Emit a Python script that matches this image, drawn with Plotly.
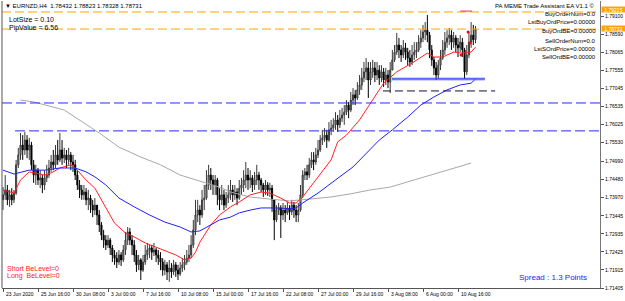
import plotly.graph_objects as go

# ---------------- data ----------------
label_idx = [0, 16, 32, 48, 64, 80, 96, 112, 128, 144, 160, 176, 192, 208]
tick_labels = ["23 Jun 2020", "25 Jun 16:00", "30 Jun 08:00", "3 Jul 00:00", "7 Jul 16:00",
               "10 Jul 08:00", "15 Jul 00:00", "17 Jul 16:00", "22 Jul 08:00", "27 Jul 00:00",
               "29 Jul 16:00", "3 Aug 08:00", "6 Aug 00:00", "10 Aug 16:00"]
y_ticks = [1.79100, 1.78590, 1.78065, 1.77555, 1.77045, 1.76535, 1.76025, 1.75530,
           1.74990, 1.74480, 1.73970, 1.73445, 1.72935, 1.72425, 1.71915, 1.71405]

opens = [
 1.7390,1.7404,1.7418,1.7390,1.7404,1.7390,1.7409,1.7489,1.7517,1.7545,
 1.7531,1.7559,1.7531,1.7545,1.7489,1.7460,1.7474,1.7446,1.7452,1.7432,
 1.7452,1.7460,1.7480,1.7497,1.7489,1.7517,1.7503,1.7531,1.7508,1.7517,
 1.7503,1.7517,1.7497,1.7489,1.7460,1.7432,1.7418,1.7404,1.7412,1.7390,
 1.7395,1.7375,1.7361,1.7375,1.7347,1.7319,1.7290,1.7276,1.7262,1.7276,
 1.7254,1.7234,1.7225,1.7214,1.7234,1.7220,1.7248,1.7276,1.7299,1.7276,
 1.7262,1.7234,1.7206,1.7220,1.7191,1.7214,1.7234,1.7248,1.7254,1.7242,
 1.7248,1.7234,1.7225,1.7214,1.7191,1.7206,1.7186,1.7197,1.7186,1.7206,
 1.7191,1.7180,1.7197,1.7206,1.7214,1.7225,1.7234,1.7262,1.7305,1.7347,
 1.7361,1.7347,1.7390,1.7395,1.7432,1.7460,1.7446,1.7432,1.7446,1.7404,
 1.7390,1.7404,1.7375,1.7395,1.7404,1.7418,1.7404,1.7412,1.7395,1.7423,
 1.7432,1.7446,1.7460,1.7446,1.7452,1.7432,1.7446,1.7460,1.7446,1.7432,
 1.7418,1.7432,1.7418,1.7423,1.7390,1.7333,1.7361,1.7367,1.7347,1.7361,
 1.7353,1.7367,1.7356,1.7375,1.7361,1.7347,1.7361,1.7404,1.7460,1.7469,
 1.7460,1.7489,1.7503,1.7497,1.7517,1.7531,1.7559,1.7565,1.7573,1.7559,
 1.7588,1.7593,1.7602,1.7616,1.7602,1.7621,1.7630,1.7638,1.7658,1.7644,
 1.7672,1.7687,1.7678,1.7701,1.7715,1.7735,1.7752,1.7763,1.7729,1.7752,
 1.7763,1.7743,1.7757,1.7735,1.7752,1.7729,1.7743,1.7723,1.7757,1.7786,
 1.7808,1.7828,1.7814,1.7800,1.7820,1.7808,1.7791,1.7780,1.7800,1.7808,
 1.7814,1.7836,1.7848,1.7865,1.7870,1.7856,1.7814,1.7786,1.7763,1.7743,
 1.7771,1.7791,1.7814,1.7836,1.7848,1.7856,1.7836,1.7848,1.7828,1.7820,
 1.7836,1.7814,1.7752,1.7800,1.7836,1.7856,1.7843]
highs = [
 1.7426,1.7460,1.7432,1.7418,1.7423,1.7418,1.7503,1.7537,1.7579,1.7573,
 1.7582,1.7573,1.7565,1.7554,1.7503,1.7489,1.7480,1.7474,1.7460,1.7474,
 1.7489,1.7503,1.7517,1.7531,1.7545,1.7559,1.7579,1.7559,1.7537,1.7531,
 1.7537,1.7525,1.7517,1.7503,1.7474,1.7446,1.7432,1.7432,1.7423,1.7418,
 1.7404,1.7390,1.7395,1.7375,1.7361,1.7327,1.7305,1.7290,1.7290,1.7282,
 1.7262,1.7248,1.7242,1.7248,1.7242,1.7262,1.7299,1.7313,1.7310,1.7290,
 1.7276,1.7248,1.7234,1.7225,1.7234,1.7262,1.7268,1.7262,1.7262,1.7268,
 1.7254,1.7248,1.7242,1.7225,1.7220,1.7214,1.7220,1.7211,1.7220,1.7214,
 1.7206,1.7214,1.7225,1.7234,1.7248,1.7262,1.7290,1.7333,1.7390,1.7390,
 1.7375,1.7418,1.7432,1.7474,1.7489,1.7480,1.7460,1.7460,1.7452,1.7423,
 1.7432,1.7418,1.7412,1.7432,1.7446,1.7432,1.7432,1.7423,1.7446,1.7452,
 1.7474,1.7497,1.7480,1.7474,1.7460,1.7469,1.7489,1.7469,1.7452,1.7438,
 1.7446,1.7440,1.7438,1.7432,1.7390,1.7375,1.7381,1.7375,1.7381,1.7375,
 1.7384,1.7375,1.7390,1.7384,1.7375,1.7381,1.7432,1.7474,1.7480,1.7489,
 1.7508,1.7525,1.7525,1.7537,1.7559,1.7573,1.7588,1.7593,1.7588,1.7610,
 1.7616,1.7621,1.7638,1.7630,1.7644,1.7650,1.7658,1.7672,1.7667,1.7695,
 1.7706,1.7701,1.7723,1.7743,1.7763,1.7780,1.7791,1.7780,1.7780,1.7786,
 1.7780,1.7780,1.7771,1.7771,1.7763,1.7763,1.7757,1.7780,1.7814,1.7828,
 1.7862,1.7848,1.7828,1.7842,1.7834,1.7820,1.7814,1.7828,1.7836,1.7836,
 1.7856,1.7870,1.7885,1.7893,1.7913,1.7865,1.7828,1.7794,1.7780,1.7786,
 1.7814,1.7842,1.7865,1.7870,1.7876,1.7870,1.7865,1.7856,1.7848,1.7856,
 1.7848,1.7820,1.7828,1.7865,1.7893,1.7885,1.7882]
lows = [
 1.7361,1.7390,1.7375,1.7370,1.7375,1.7381,1.7404,1.7480,1.7503,1.7503,
 1.7517,1.7508,1.7503,1.7474,1.7438,1.7432,1.7432,1.7423,1.7409,1.7418,
 1.7440,1.7452,1.7469,1.7474,1.7480,1.7489,1.7497,1.7489,1.7494,1.7480,
 1.7489,1.7474,1.7469,1.7446,1.7418,1.7395,1.7390,1.7390,1.7375,1.7361,
 1.7353,1.7341,1.7347,1.7319,1.7299,1.7276,1.7254,1.7248,1.7254,1.7234,
 1.7214,1.7206,1.7197,1.7206,1.7203,1.7214,1.7234,1.7262,1.7262,1.7234,
 1.7214,1.7186,1.7191,1.7163,1.7186,1.7206,1.7220,1.7225,1.7220,1.7231,
 1.7214,1.7206,1.7191,1.7175,1.7177,1.7163,1.7158,1.7169,1.7177,1.7172,
 1.7163,1.7175,1.7186,1.7191,1.7206,1.7214,1.7225,1.7254,1.7290,1.7327,
 1.7319,1.7339,1.7361,1.7390,1.7418,1.7418,1.7404,1.7404,1.7375,1.7361,
 1.7375,1.7361,1.7367,1.7381,1.7390,1.7384,1.7390,1.7375,1.7390,1.7404,
 1.7412,1.7423,1.7418,1.7423,1.7412,1.7418,1.7432,1.7418,1.7412,1.7398,
 1.7404,1.7401,1.7398,1.7356,1.7276,1.7327,1.7347,1.7282,1.7333,1.7327,
 1.7347,1.7333,1.7347,1.7339,1.7327,1.7327,1.7356,1.7395,1.7446,1.7446,
 1.7452,1.7480,1.7474,1.7489,1.7508,1.7525,1.7545,1.7554,1.7537,1.7554,
 1.7573,1.7582,1.7588,1.7582,1.7593,1.7610,1.7602,1.7630,1.7621,1.7638,
 1.7658,1.7658,1.7672,1.7687,1.7701,1.7723,1.7729,1.7678,1.7715,1.7735,
 1.7723,1.7729,1.7715,1.7723,1.7709,1.7715,1.7706,1.7692,1.7757,1.7780,
 1.7800,1.7791,1.7780,1.7791,1.7786,1.7771,1.7766,1.7771,1.7786,1.7791,
 1.7808,1.7820,1.7836,1.7842,1.7836,1.7791,1.7769,1.7743,1.7729,1.7732,
 1.7757,1.7786,1.7800,1.7820,1.7828,1.7814,1.7820,1.7808,1.7794,1.7808,
 1.7794,1.7732,1.7743,1.7791,1.7820,1.7828,1.7833]
closes = [
 1.7404,1.7418,1.7390,1.7404,1.7390,1.7409,1.7489,1.7517,1.7545,1.7531,
 1.7559,1.7531,1.7545,1.7489,1.7460,1.7474,1.7446,1.7452,1.7432,1.7452,
 1.7460,1.7480,1.7497,1.7489,1.7517,1.7503,1.7531,1.7508,1.7517,1.7503,
 1.7517,1.7497,1.7489,1.7460,1.7432,1.7418,1.7404,1.7412,1.7390,1.7395,
 1.7375,1.7361,1.7375,1.7347,1.7319,1.7290,1.7276,1.7262,1.7276,1.7254,
 1.7234,1.7225,1.7214,1.7234,1.7220,1.7248,1.7276,1.7299,1.7276,1.7262,
 1.7234,1.7206,1.7220,1.7191,1.7214,1.7234,1.7248,1.7254,1.7242,1.7248,
 1.7234,1.7225,1.7214,1.7191,1.7206,1.7186,1.7197,1.7186,1.7206,1.7191,
 1.7180,1.7197,1.7206,1.7214,1.7225,1.7234,1.7262,1.7305,1.7347,1.7361,
 1.7347,1.7390,1.7395,1.7432,1.7460,1.7446,1.7432,1.7446,1.7404,1.7390,
 1.7404,1.7375,1.7395,1.7404,1.7418,1.7404,1.7412,1.7395,1.7423,1.7432,
 1.7446,1.7460,1.7446,1.7452,1.7432,1.7446,1.7460,1.7446,1.7432,1.7418,
 1.7432,1.7418,1.7423,1.7390,1.7333,1.7361,1.7367,1.7347,1.7361,1.7353,
 1.7367,1.7356,1.7375,1.7361,1.7347,1.7361,1.7404,1.7460,1.7469,1.7460,
 1.7489,1.7503,1.7497,1.7517,1.7531,1.7559,1.7565,1.7573,1.7559,1.7588,
 1.7593,1.7602,1.7616,1.7602,1.7621,1.7630,1.7638,1.7658,1.7644,1.7672,
 1.7687,1.7678,1.7701,1.7715,1.7735,1.7752,1.7763,1.7729,1.7752,1.7763,
 1.7743,1.7757,1.7735,1.7752,1.7729,1.7743,1.7723,1.7757,1.7786,1.7808,
 1.7828,1.7814,1.7800,1.7820,1.7808,1.7791,1.7780,1.7800,1.7808,1.7814,
 1.7836,1.7848,1.7865,1.7870,1.7856,1.7814,1.7786,1.7763,1.7743,1.7771,
 1.7791,1.7814,1.7836,1.7848,1.7856,1.7836,1.7848,1.7828,1.7820,1.7836,
 1.7814,1.7752,1.7800,1.7836,1.7856,1.7843,1.7873]

red_ma_idx = [0,5,8,12,19,22,26,31,33,38,42,47,51,56,60,65,70,74,79,83,
              86,88,90,95,99,104,108,113,118,122,127,131,134,137,144,150,153,157,163,169,
              174,180,187,194,197,201,206,210,214,216]
red_ma = [1.7418,1.7409,1.7446,1.7469,1.7460,1.7466,1.7480,1.7489,1.7480,1.7446,
          1.7423,1.7370,1.7324,1.7296,1.7285,1.7268,1.7256,1.7248,1.7234,1.7220,
          1.7225,1.7242,1.7270,1.7319,1.7347,1.7370,1.7384,1.7404,1.7412,1.7409,
          1.7395,1.7381,1.7381,1.7398,1.7455,1.7503,1.7554,1.7573,1.7616,1.7672,
          1.7720,1.7752,1.7777,1.7805,1.7794,1.7794,1.7808,1.7805,1.7808,1.7822]
blue_ma_idx = [0,5,12,19,26,33,38,42,47,53,60,67,74,81,86,90,95,99,104,108,
               113,118,127,131,134,137,144,150,155,160,166,172,178,185,191,197,203,209,214,216]
blue_ma = [1.7474,1.7463,1.7474,1.7474,1.7480,1.7480,1.7469,1.7455,1.7432,1.7395,
           1.7370,1.7347,1.7327,1.7313,1.7299,1.7302,1.7319,1.7333,1.7341,1.7353,
           1.7361,1.7367,1.7367,1.7364,1.7367,1.7381,1.7409,1.7438,1.7460,1.7483,
           1.7522,1.7559,1.7588,1.7624,1.7658,1.7681,1.7701,1.7715,1.7720,1.7732]
gray_ma_idx = [8,14,28,35,44,53,63,72,81,90,99,104,113,122,131,140,150,159,168,177,195,214]
gray_ma = [1.7672,1.7667,1.7644,1.7616,1.7579,1.7539,1.7511,1.7489,1.7460,1.7443,
           1.7426,1.7412,1.7398,1.7392,1.7387,1.7392,1.7398,1.7407,1.7418,1.7426,1.7460,1.7494]

orange_levels = [1.79215, 1.78731]
orange_texts = ["1.79215", "1.78731"]
orange_label_shift = [2, 1]
blue_levels = [1.7664, 1.7585]
blue_level_start = [-0.46, 5.5]
dark_level = 1.7698
dark_level_span = [173.7, 225.0]
support_level = 1.7732
support_span = [177.8, 220.3]
mark_idx = [209.4, 212.6, 213.5]
mark_val = [1.7800, 1.7865, 1.7834]
top_mark_span = [209.0, 214.4]
top_mark_val = 1.7924

header = "▼ EURNZD,H4  1.78432 1.78823 1.78328 1.78731"
info_right = ["BuyOrderNum=0.0", "LstBuyOrdPrice=0.00000", "BuyOrdBE=0.00000",
              "SellOrderNum=0.0", "LstSOrdPrice=0.00000", "SellOrdBE=0.00000"]

# ---------------- layout helpers ----------------
W, H = 625, 301
ML, MR, MT, MB = 2, 25, 1, 13
PW, PH = W - ML - MR, H - MT - MB
def px(x):
    return (x - ML) / PW
def py(y):
    return (H - MB - y) / PH

FONT = "Liberation Sans"
x_rng = [-0.457, -0.457 + PW / 2.1875]
y_rng = [1.71405, 1.71405 + PH * 0.00028293]

xs = list(range(len(closes)))
fig = go.Figure()
fig.add_trace(go.Scatter(x=gray_ma_idx, y=gray_ma, mode="lines",
                         line=dict(color="#a8a8a8", width=1), hoverinfo="skip"))
fig.add_trace(go.Candlestick(
    x=xs, open=opens, high=highs, low=lows, close=closes,
    increasing=dict(line=dict(color="#3a3a3a", width=1), fillcolor="#a0a0a0"),
    decreasing=dict(line=dict(color="#000000", width=1), fillcolor="#000000"),
    whiskerwidth=0, hoverinfo="skip"))
fig.add_trace(go.Scatter(x=red_ma_idx, y=red_ma, mode="lines",
                         line=dict(color="#ff2020", width=1), hoverinfo="skip"))
fig.add_trace(go.Scatter(x=blue_ma_idx, y=blue_ma, mode="lines",
                         line=dict(color="#2020ff", width=1), hoverinfo="skip"))
fig.add_trace(go.Scatter(x=mark_idx, y=mark_val, mode="markers",
                         marker=dict(color="#ff0000", size=3), hoverinfo="skip"))

shapes = []
for lv in orange_levels:
    shapes.append(dict(type="line", xref="paper", x0=0, x1=1, yref="y", y0=lv, y1=lv,
                       line=dict(color="#FFA500", width=1, dash="9px,4px"), layer="above"))
for lv, st in zip(blue_levels, blue_level_start):
    shapes.append(dict(type="line", xref="x", x0=st, x1=x_rng[1], yref="y", y0=lv, y1=lv,
                       line=dict(color="#2828ff", width=1, dash="10px,4px"), layer="above"))
shapes.append(dict(type="line", xref="x", x0=dark_level_span[0], x1=dark_level_span[1],
                   yref="y", y0=dark_level, y1=dark_level,
                   line=dict(color="#101040", width=1, dash="8px,4px"), layer="above"))
shapes.append(dict(type="line", xref="x", x0=support_span[0], x1=support_span[1],
                   yref="y", y0=support_level, y1=support_level,
                   line=dict(color="rgba(70,90,255,0.55)", width=3), layer="above"))
shapes.append(dict(type="line", xref="x", x0=support_span[0], x1=support_span[1],
                   yref="y", y0=support_level, y1=support_level,
                   line=dict(color="#3040ff", width=1), layer="above"))
shapes.append(dict(type="line", xref="x", x0=top_mark_span[0], x1=top_mark_span[1],
                   yref="y", y0=top_mark_val, y1=top_mark_val,
                   line=dict(color="#ff3030", width=1), layer="above"))
# left frame
shapes.append(dict(type="line", xref="paper", x0=0, x1=0, yref="paper", y0=0, y1=1,
                   line=dict(color="#555555", width=1)))

ann = []
ann.append(dict(text=header, x=px(3), y=py(6), xref="paper", yref="paper",
                xanchor="left", yanchor="middle", showarrow=False,
                font=dict(family=FONT, size=6, color="#000000")))
ann.append(dict(text="LotSize = 0.10", x=px(7), y=py(19), xref="paper", yref="paper",
                xanchor="left", yanchor="middle", showarrow=False,
                font=dict(family=FONT, size=7, color="#000000")))
ann.append(dict(text="PipValue = 6.56", x=px(7), y=py(28), xref="paper", yref="paper",
                xanchor="left", yanchor="middle", showarrow=False,
                font=dict(family=FONT, size=7, color="#000000")))
ann.append(dict(text="PA MEME Trade Assistant EA V1.1 ©", x=px(597), y=py(6),
                xref="paper", yref="paper", xanchor="right", yanchor="middle",
                showarrow=False, font=dict(family=FONT, size=6, color="#000000")))
info_y = [14, 22, 31, 41, 49, 57]
for t, yy in zip(info_right, info_y):
    ann.append(dict(text=t, x=px(598), y=py(yy), xref="paper", yref="paper",
                    xanchor="right", yanchor="middle", showarrow=False,
                    font=dict(family=FONT, size=6, color="#000000")))
ann.append(dict(text="Short BeLevel=0", x=px(5), y=py(268), xref="paper", yref="paper",
                xanchor="left", yanchor="middle", showarrow=False,
                font=dict(family=FONT, size=7, color="#ff2020")))
ann.append(dict(text="Long&nbsp;&nbsp;BeLevel=0", x=px(5), y=py(276), xref="paper", yref="paper",
                xanchor="left", yanchor="middle", showarrow=False,
                font=dict(family=FONT, size=7, color="#ff2020")))
ann.append(dict(text="Spread : 1.3 Points", x=px(589), y=py(277), xref="paper", yref="paper",
                xanchor="right", yanchor="middle", showarrow=False,
                font=dict(family=FONT, size=8, color="#2424ff")))
for i, t in zip(label_idx, tick_labels):
    ann.append(dict(text=t, x=i, xref="x", y=py(294), yref="paper", xanchor="left",
                    yanchor="middle", xshift=1, showarrow=False,
                    font=dict(family=FONT, size=5, color="#000000")))
for lv, t, sh in zip(orange_levels, orange_texts, orange_label_shift):
    ann.append(dict(text=t, x=1.002, xref="paper", y=lv, yref="y", xanchor="left",
                    yanchor="middle", yshift=sh, showarrow=False, bgcolor="#FFA500",
                    borderpad=0, width=23, height=5,
                    font=dict(family=FONT, size=5, color="#ffffff")))

fig.update_layout(
    width=W, height=H, margin=dict(l=ML, r=MR, t=MT, b=MB),
    paper_bgcolor="white", plot_bgcolor="white", showlegend=False,
    shapes=shapes, annotations=ann,
    xaxis=dict(range=x_rng, showgrid=False, zeroline=False, rangeslider=dict(visible=False),
               tickvals=label_idx, ticks="outside", ticklen=3, tickcolor="#555555",
               showticklabels=False, showline=True, linecolor="#555555", linewidth=1),
    yaxis=dict(range=y_rng, side="right", showgrid=False, zeroline=False,
               tickvals=y_ticks, ticktext=[f"{v:.5f}" for v in y_ticks],
               ticks="outside", ticklen=3, tickcolor="#555555",
               tickfont=dict(family=FONT, size=5, color="#000000"),
               showline=True, linecolor="#777777", linewidth=1),
)
fig.write_html("out.html")
